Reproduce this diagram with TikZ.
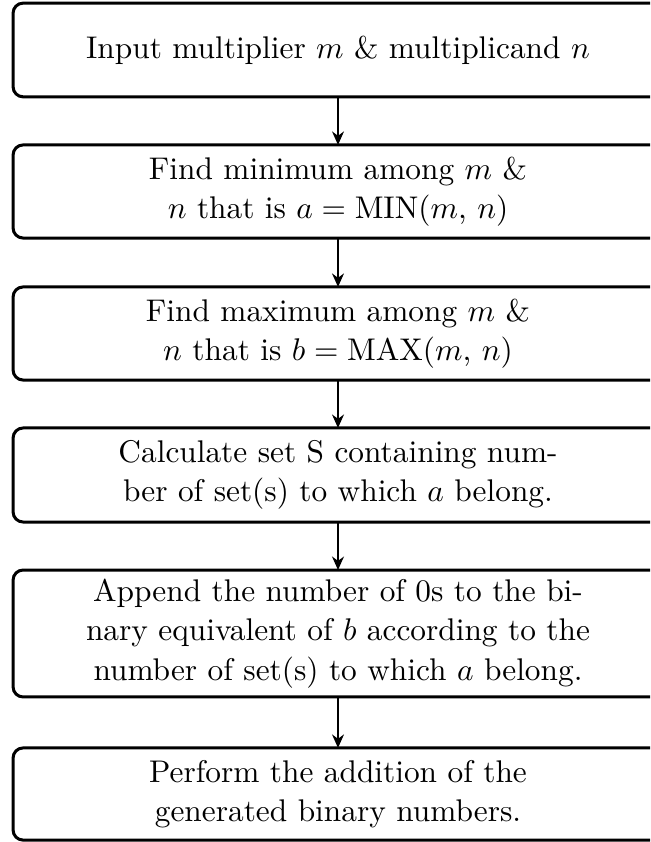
\documentclass[tikz,border=0pt]{standalone}
\usetikzlibrary{arrows.meta}
\begin{document}
\begin{tikzpicture}[x=0.319pt,y=-0.319pt,
  flowbox/.style={minimum width=207.3pt, outer sep=0pt,
    align=center, inner sep=2pt, font=\fontsize{10pt}{12.55pt}\selectfont},
  boxline/.style={draw, line width=0.96pt, rounded corners=3.2pt},
  flowarrow/.style={line width=0.58pt, -{Stealth[length=4.3pt,width=3.8pt]}}]
\clip (0,0) rectangle (650,842);
\node[flowbox, minimum height=29.9pt] (b1) at (338,50) {Input multiplier $m$ \& multiplicand $n$};
\node[flowbox, minimum height=29.7pt] (b2) at (338,191.5) {Find minimum among $m$ \&\\ $n$ that is $a = \mathrm{MIN}(m$, $n)$};
\node[flowbox, minimum height=29.7pt] (b3) at (338,333.5) {Find maximum among $m$ \&\\ $n$ that is $b = \mathrm{MAX}(m$, $n)$};
\node[flowbox, minimum height=30pt] (b4) at (338,475) {Calculate set S containing num-\\ber of set(s) to which $a$ belong.};
\node[flowbox, minimum height=40.5pt] (b5) at (338,633.5) {Append the number of 0s to the bi-\\nary equivalent of $b$ according to the\\number of set(s) to which $a$ belong.};
\node[flowbox, minimum height=29.4pt] (b6) at (338,794) {Perform the addition of the\\generated binary numbers.};
\foreach \n in {b1,b2,b3,b4,b5,b6}
  \draw[boxline] (\n.south west) rectangle ([xshift=20pt]\n.north east);
\draw[flowarrow] (b1.south) -- (b2.north);
\draw[flowarrow] (b2.south) -- (b3.north);
\draw[flowarrow] (b3.south) -- (b4.north);
\draw[flowarrow] (b4.south) -- (b5.north);
\draw[flowarrow] (b5.south) -- (b6.north);
\end{tikzpicture}
\end{document}
